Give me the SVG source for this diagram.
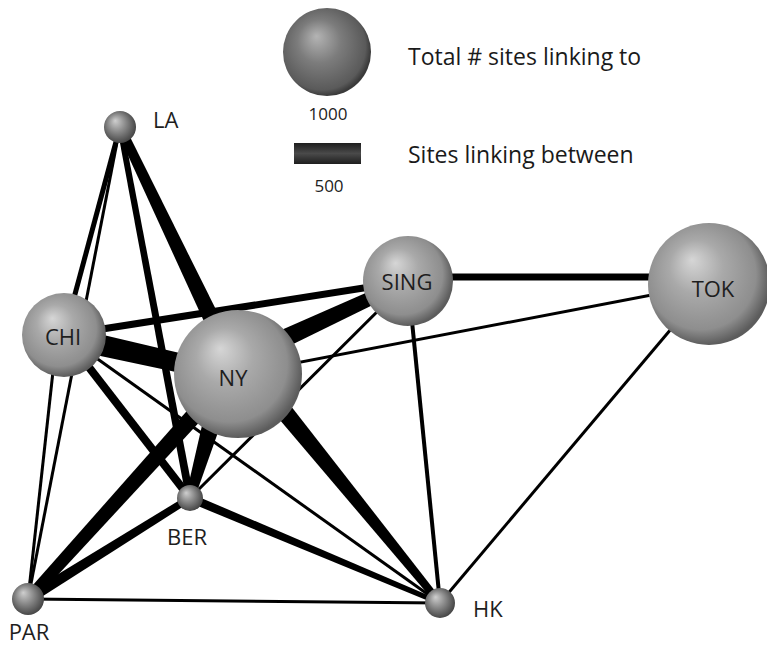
<svg xmlns="http://www.w3.org/2000/svg" width="767" height="648" viewBox="0 0 767 648">
<defs>
<radialGradient id="gBig" cx="0.45" cy="0.45" r="0.55" fx="0.36" fy="0.3">
<stop offset="0" stop-color="#d6d6d6"/>
<stop offset="0.4" stop-color="#a9a9a9"/>
<stop offset="0.82" stop-color="#8e8e8e"/>
<stop offset="1" stop-color="#5c5c5c"/>
</radialGradient>
<radialGradient id="gSmall" cx="0.45" cy="0.45" r="0.55" fx="0.35" fy="0.3">
<stop offset="0" stop-color="#cfcfcf"/>
<stop offset="0.5" stop-color="#8a8a8a"/>
<stop offset="1" stop-color="#474747"/>
</radialGradient>
<radialGradient id="gLeg" cx="0.45" cy="0.45" r="0.55" fx="0.38" fy="0.32">
<stop offset="0" stop-color="#b4b4b4"/>
<stop offset="0.45" stop-color="#7c7c7c"/>
<stop offset="0.9" stop-color="#5a5a5a"/>
<stop offset="1" stop-color="#3a3a3a"/>
</radialGradient>
<linearGradient id="gBar" x1="0" y1="0" x2="0" y2="1">
<stop offset="0" stop-color="#1e1e1e"/>
<stop offset="0.5" stop-color="#4a4a4a"/>
<stop offset="1" stop-color="#1e1e1e"/>
</linearGradient>
</defs>
<style>
.e{stroke:#000;stroke-linecap:butt;fill:none}
.w{fill:#000}
.lbl{font-family:"Open Sans","Liberation Sans",sans-serif;font-size:22px;fill:#1e1e1e}
.leg{font-family:"Open Sans","Liberation Sans",sans-serif;font-size:23px;fill:#1a1a1a}
.num{font-family:"Open Sans","Liberation Sans",sans-serif;font-size:17px;fill:#222}
.big{fill:url(#gBig)}
.small{fill:url(#gSmall)}
</style>
<rect width="767" height="648" fill="#fff"/>

<g id="connectors">
<line class="e" x1="120" y1="127" x2="64" y2="335" stroke-width="5"/>
<line class="e" x1="120" y1="127" x2="28" y2="599" stroke-width="3"/>
<polygon class="w" points="117.1,127.6 186.1,498.7 193.9,497.3 122.9,126.4"/>
<polygon class="w" points="115.9,128.9 229.9,377.9 246.1,370.1 124.1,125.1"/>
<polygon class="w" points="61.6,347.7 236.0,384.8 240.0,367.2 66.4,326.3"/>
<line class="e" x1="64" y1="335" x2="408" y2="281" stroke-width="7"/>
<line class="e" x1="64" y1="335" x2="190" y2="498" stroke-width="8"/>
<line class="e" x1="64" y1="335" x2="440" y2="603" stroke-width="3"/>
<line class="e" x1="57" y1="335" x2="28" y2="599" stroke-width="3"/>
<polygon class="w" points="242.2,369.1 410.5,286.4 405.5,275.6 233.8,350.9"/>
<line class="e" x1="238" y1="374" x2="709" y2="284" stroke-width="3"/>
<polygon class="w" points="214.5,370.7 185.7,496.7 194.3,499.3 237.5,377.3"/>
<polygon class="w" points="32.1,602.7 234.7,384.0 221.3,372.0 23.9,595.3"/>
<polygon class="w" points="244.5,378.4 437.3,605.3 442.7,600.7 259.5,365.7"/>
<line class="e" x1="408" y1="277" x2="709" y2="277" stroke-width="7"/>
<line class="e" x1="408" y1="281" x2="440" y2="603" stroke-width="4"/>
<line class="e" x1="408" y1="281" x2="190" y2="498" stroke-width="3"/>
<polygon class="w" points="188.1,495.0 25.1,594.3 30.9,603.7 191.9,501.0"/>
<polygon class="w" points="188.3,502.1 439.0,605.3 441.0,600.7 191.7,493.9"/>
<line class="e" x1="28" y1="599" x2="440" y2="603" stroke-width="3"/>
<line class="e" x1="709" y1="284" x2="440" y2="603" stroke-width="3"/>
</g>

<g id="node-LA">
<circle class="small" cx="120" cy="127" r="16"/>
<text class="lbl" x="153" y="128">LA</text>
</g>
<g id="node-CHI">
<circle class="big" cx="64" cy="335" r="42"/>
<text class="lbl" x="63" y="345" text-anchor="middle">CHI</text>
</g>
<g id="node-NY">
<circle class="big" cx="238" cy="374" r="64"/>
<text class="lbl" x="233" y="386" text-anchor="middle">NY</text>
</g>
<g id="node-SING">
<circle class="big" cx="408" cy="281" r="45"/>
<text class="lbl" x="407" y="290" text-anchor="middle">SING</text>
</g>
<g id="node-TOK">
<circle class="big" cx="709" cy="284" r="61"/>
<text class="lbl" x="713" y="297" text-anchor="middle">TOK</text>
</g>
<g id="node-BER">
<circle class="small" cx="190" cy="498" r="13"/>
<text class="lbl" x="187" y="545" text-anchor="middle">BER</text>
</g>
<g id="node-PAR">
<circle class="small" cx="28" cy="599" r="16"/>
<text class="lbl" x="29" y="640" text-anchor="middle">PAR</text>
</g>
<g id="node-HK">
<circle class="small" cx="440" cy="603" r="15"/>
<text class="lbl" x="473" y="617">HK</text>
</g>

<g id="legend">
<circle cx="327" cy="52" r="44" fill="url(#gLeg)"/>
<text class="num" x="328" y="120" text-anchor="middle">1000</text>
<text class="leg" x="408" y="65">Total # sites linking to</text>
<rect x="294" y="143" width="67" height="21" fill="url(#gBar)"/>
<text class="num" x="329" y="192" text-anchor="middle">500</text>
<text class="leg" x="408" y="163">Sites linking between</text>
</g>
</svg>
